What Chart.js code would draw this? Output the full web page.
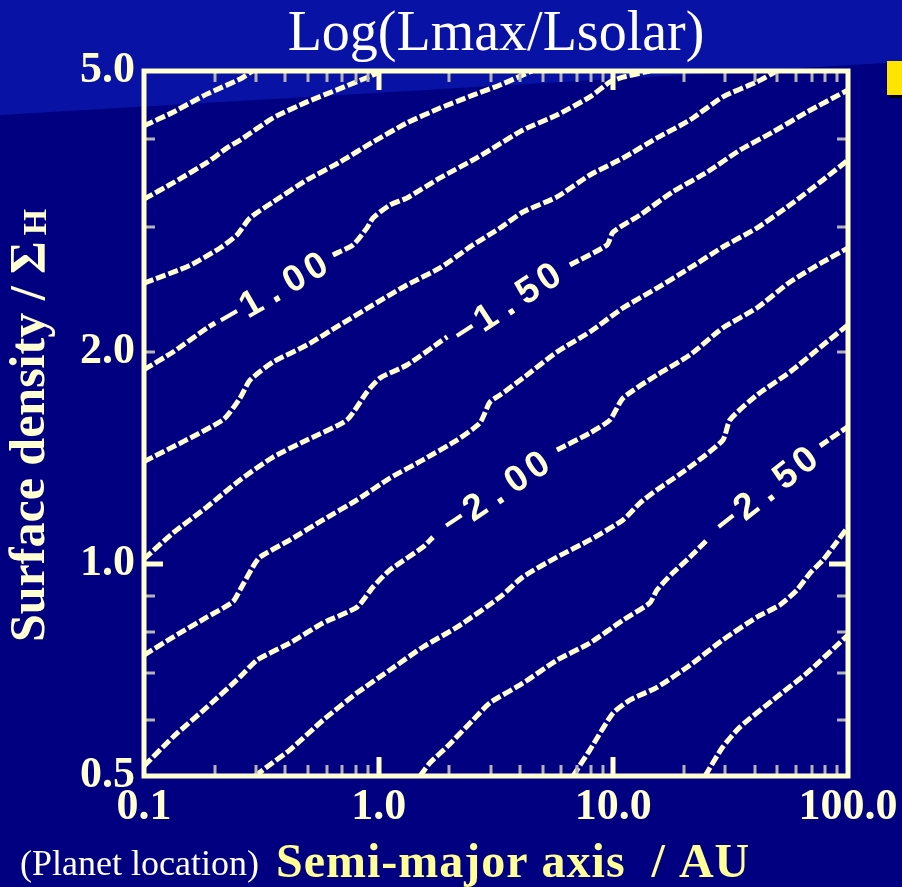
<!DOCTYPE html>
<html>
<head>
<meta charset="utf-8">
<title>Log(Lmax/Lsolar)</title>
<script src="https://cdn.jsdelivr.net/npm/chart.js@4.4.1/dist/chart.umd.min.js"></script>
<style>
  html, body { margin: 0; padding: 0; background: #000080; overflow: hidden; }
  canvas { display: block; }
</style>
</head>
<body>
<canvas id="chart" width="902" height="887"></canvas>
<script>
// Contours of Log(Lmax/Lsolar), points are [semi-major axis (AU), surface density / Sigma_H]
// null marks a gap left open for a contour label
const c025 = [[0.1, 4.18], [0.133, 4.37], [0.186, 4.64], [0.257, 4.87], [0.29, 5.0]];
const c050 = [[0.1, 3.29], [0.133, 3.47], [0.186, 3.71], [0.226, 3.89], [0.257, 3.99], [0.355, 4.29],
    [0.495, 4.52], [0.684, 4.72], [0.946, 4.935], [1.013, 5.0]];
const c075 = [[0.1, 2.50], [0.157, 2.65], [0.211, 2.805], [0.249, 2.927], [0.283, 3.094], [0.355, 3.26],
    [0.495, 3.503], [0.684, 3.714], [0.946, 3.966], [1.32, 4.22], [1.825, 4.43], [2.52, 4.62],
    [3.29, 4.776], [4.5, 5.0]];
const c100 = [[0.1, 1.885], [0.133, 1.997], [0.186, 2.161], [0.201, 2.196], null,
    [0.638, 2.742], [0.777, 2.833], [0.891, 2.994], [0.946, 3.094], [1.117, 3.228], [1.32, 3.303],
    [1.825, 3.526], [2.52, 3.738], [2.98, 3.863], [4.12, 4.124], [5.75, 4.33], [7.95, 4.595],
    [9.68, 4.825], [11.0, 4.90], [14.3, 5.0]];
const c125 = [[0.1, 1.396], [0.217, 1.60], [0.2565, 1.718], [0.283, 1.822], [0.355, 1.933], [0.495, 2.043],
    [0.684, 2.182], [0.946, 2.329], [1.32, 2.486], [1.825, 2.628], [2.52, 2.833], [3.29, 2.994],
    [4.12, 3.155], [5.75, 3.314], [7.95, 3.56], [11.0, 3.763], [15.35, 4.018], [21.2, 4.26],
    [29.3, 4.595], [40.9, 4.825], [49.8, 5.0]];
const c150 = [[0.1, 1.016], [0.133, 1.106], [0.1855, 1.204], [0.2565, 1.315], [0.355, 1.417], [0.495, 1.498],
    [0.733, 1.60], [0.891, 1.752], [1.013, 1.834], [1.32, 1.914], [1.825, 2.064], [1.96, 2.098], null,
    [6.53, 2.653], [9.4, 2.833], [9.97, 2.955], [13.0, 3.124], [17.9, 3.369], [25.1, 3.594],
    [34.7, 3.863], [47.9, 4.097], [66.9, 4.373], [100, 4.70]];
const c175 = [[0.1, 0.742], [0.133, 0.787], [0.1855, 0.840], [0.239, 0.883], [0.2565, 0.918], [0.291, 0.990],
    [0.312, 1.022], [0.419, 1.081], [0.579, 1.154], [0.809, 1.232], [1.117, 1.323], [1.545, 1.404],
    [2.157, 1.498], [2.70, 1.584], [2.98, 1.696], [3.29, 1.735], [4.12, 1.834], [5.75, 1.997],
    [7.95, 2.133], [11.0, 2.306], [15.35, 2.461], [21.2, 2.628], [29.3, 2.814], [40.9, 2.994],
    [56.6, 3.228], [78.2, 3.503], [100, 3.738]];
const c200 = [[0.1, 0.5166], [0.133, 0.568], [0.1855, 0.626], [0.2565, 0.691], [0.303, 0.730], [0.419, 0.772],
    [0.579, 0.824], [0.809, 0.868], [0.946, 0.927], [1.117, 0.980], [1.545, 1.056], [1.704, 1.091], null,
    [5.75, 1.45], [7.95, 1.533], [9.68, 1.60], [11.0, 1.718], [15.35, 1.853], [21.2, 1.978],
    [29.3, 2.161], [40.9, 2.306], [56.6, 2.51], [78.2, 2.68], [100, 2.805]];
const c225 = [[0.297, 0.5], [0.334, 0.515], [0.419, 0.5446], [0.579, 0.600], [0.809, 0.656], [1.117, 0.707],
    [1.545, 0.762], [2.157, 0.813], [3.29, 0.897], [4.12, 0.958], [5.75, 1.022], [7.95, 1.081],
    [11.0, 1.154], [13.0, 1.22], [15.35, 1.273], [21.2, 1.372], [29.3, 1.498], [31.4, 1.60],
    [40.9, 1.735], [56.6, 1.871], [78.2, 2.043], [100, 2.182]];
const c250 = [[1.50, 0.5], [1.655, 0.522], [1.955, 0.550], [2.52, 0.600], [2.98, 0.635], [4.12, 0.677],
    [5.75, 0.730], [7.95, 0.772], [11.0, 0.832], [14.3, 0.880], [15.35, 0.918], [17.9, 0.970],
    [21.2, 1.022], [25.1, 1.081], null, [76.0, 1.47], [100, 1.565]];
const c275 = [[6.73, 0.5], [7.95, 0.5446], [9.97, 0.614], [11.8, 0.641], [15.35, 0.668], [21.2, 0.718],
    [29.3, 0.780], [40.9, 0.840], [51.3, 0.874], [60.6, 0.918], [68.9, 0.970], [78.2, 1.012],
    [86.3, 1.056], [100, 1.128]];
const c300 = [[24.6, 0.5], [29.3, 0.550], [34.7, 0.587], [47.9, 0.641], [66.9, 0.700], [100, 0.7925]];

const contours = [c025, c050, c075, c100, c125, c150, c175, c200, c225, c250, c275, c300];

// contour labels, anchored in data space
const labelTexts = ['\u22121.00', '\u22121.50', '\u22122.00', '\u22122.50'];
const labelAU = [0.351, 3.49, 3.13, 44.3];
const labelSigma = [2.445, 2.344, 1.264, 1.273];

// axes
const xTicks = [0.1, 1, 10, 100];
const xTickLabels = ['0.1', '1.0', '10.0', '100.0'];
const xMinorTicks = [0.2, 0.3, 0.4, 0.5, 0.6, 0.7, 0.8, 0.9, 2, 3, 4, 5, 6, 7, 8, 9, 20, 30, 40, 50, 60, 70, 80, 90];
const xMajorTicks = [1, 10];
const yTicks = [0.5, 1, 2, 5];
const yTickLabels = ['0.5', '1.0', '2.0', '5.0'];
const yMinorTicks = [0.6, 0.7, 0.8, 0.9, 2, 3, 4];
const yMajorTicks = [1];

// ------------------------------------------------------------
// styles
// ------------------------------------------------------------
const CREAM = '#FFFFD2';
const X_TITLE_COLOR = '#FFFF96';
const LABEL_ANGLES = [-30, -33, -34, -38];

// split a contour at its gaps so each piece is its own dataset
function splitAtGaps(points) {
    const pieces = [[]];
    points.forEach(p => {
        if (p === null) pieces.push([]);
        else pieces[pieces.length - 1].push({ x: p[0], y: p[1] });
    });
    return pieces.filter(p => p.length > 1);
}

const datasets = [];
contours.forEach(c => {
    splitAtGaps(c).forEach(piece => {
        datasets.push({
            data: piece,
            borderColor: CREAM,
            borderWidth: 5,
            borderDash: [10, 3],
            pointRadius: 0,
            tension: 0.2,
            fill: false,
        });
    });
});

const decorPlugin = {
    id: 'decor',
    beforeDraw(chart) {
        const c = chart.ctx;
        c.save();
        c.fillStyle = '#000080';
        c.fillRect(0, 0, chart.width, chart.height);
        // lighter slide band at the top
        c.fillStyle = '#0812a4';
        c.beginPath();
        c.moveTo(0, 0);
        c.lineTo(chart.width, 0);
        c.lineTo(chart.width, 62);
        c.lineTo(0, 115);
        c.closePath();
        c.fill();
        // bullet square at the right edge
        c.fillStyle = '#000000';
        c.fillRect(890, 64, 15, 34);
        c.fillStyle = '#FFE400';
        c.fillRect(887, 61, 15, 34);
        c.restore();
    },
    afterDatasetsDraw(chart) {
        const c = chart.ctx;
        const xs = chart.scales.x;
        const ys = chart.scales.y;
        const { left, right, top, bottom } = chart.chartArea;

        c.save();
        c.lineCap = 'butt';

        // minor ticks, pointing inward
        c.strokeStyle = '#B4B4B8';
        c.lineWidth = 3;
        c.beginPath();
        xMinorTicks.forEach(v => {
            const px = Math.round(xs.getPixelForValue(v));
            c.moveTo(px, bottom); c.lineTo(px, bottom - 11);
            c.moveTo(px, top); c.lineTo(px, top + 11);
        });
        yMinorTicks.forEach(v => {
            const py = Math.round(ys.getPixelForValue(v));
            c.moveTo(left, py); c.lineTo(left + 11, py);
            c.moveTo(right, py); c.lineTo(right - 11, py);
        });
        c.stroke();

        // major ticks
        c.strokeStyle = CREAM;
        c.lineWidth = 5;
        c.beginPath();
        xMajorTicks.forEach(v => {
            const px = Math.round(xs.getPixelForValue(v));
            c.moveTo(px, bottom); c.lineTo(px, bottom - 19);
            c.moveTo(px, top); c.lineTo(px, top + 19);
        });
        yMajorTicks.forEach(v => {
            const py = Math.round(ys.getPixelForValue(v));
            c.moveTo(left, py); c.lineTo(left + 19, py);
            c.moveTo(right, py); c.lineTo(right - 19, py);
        });
        c.stroke();

        // frame
        c.lineWidth = 5;
        c.strokeRect(left, top, right - left, bottom - top);

        // contour labels, one character at a time along the contour
        c.fillStyle = CREAM;
        c.font = 'bold 37px "Liberation Sans", Arial, sans-serif';
        c.textAlign = 'center';
        c.textBaseline = 'alphabetic';
        labelTexts.forEach((txt, i) => {
            const px = xs.getPixelForValue(labelAU[i]);
            const py = ys.getPixelForValue(labelSigma[i]);
            c.save();
            c.translate(px, py);
            c.rotate(LABEL_ANGLES[i] * Math.PI / 180);
            const chars = Array.from(txt);
            chars.forEach((ch, k) => {
                c.fillText(ch, (k - (chars.length - 1) / 2) * 25, 13);
            });
            c.restore();
        });

        // title
        c.fillStyle = '#FFFFFF';
        c.font = '56px "Liberation Serif", "Times New Roman", serif';
        c.textAlign = 'center';
        c.fillText('Log(Lmax/Lsolar)', 496, 50);

        // x axis title
        c.textAlign = 'left';
        c.font = '36px "Liberation Serif", "Times New Roman", serif';
        c.fillText('(Planet location)', 20, 875);
        c.fillStyle = X_TITLE_COLOR;
        c.font = 'bold 48px "Liberation Serif", "Times New Roman", serif';
        c.letterSpacing = '1px';
        c.fillText('Semi-major axis  / AU', 276, 877);
        c.letterSpacing = '0px';

        // y axis title, rotated
        c.save();
        c.translate(44, 642);
        c.rotate(-Math.PI / 2);
        c.fillStyle = CREAM;
        c.font = 'bold 50px "Liberation Serif", "Times New Roman", serif';
        const main = 'Surface density / \u03A3';
        c.fillText(main, 0, 0);
        const w = c.measureText(main).width;
        c.font = 'bold 34px "Liberation Serif", "Times New Roman", serif';
        c.fillText('H', w + 6, 2);
        c.restore();

        c.restore();
    },
};

const tickFont = { family: '"Liberation Serif", "Times New Roman", serif', size: 44, weight: 'bold' };

new Chart(document.getElementById('chart'), {
    type: 'line',
    data: { datasets },
    options: {
        responsive: false,
        animation: false,
        devicePixelRatio: 1,
        layout: { padding: { top: 71, right: 54, left: 0, bottom: 0 } },
        plugins: {
            legend: { display: false },
            tooltip: { enabled: false },
            title: { display: false },
        },
        scales: {
            x: {
                type: 'logarithmic',
                min: 0.1,
                max: 100,
                afterBuildTicks: s => { s.ticks = xTicks.map(v => ({ value: v })); },
                afterFit: s => {
                    s.height = 111;
                    s.paddingLeft = 0;
                    s.paddingRight = 0;
                },
                grid: { display: false, drawTicks: false },
                border: { display: false },
                ticks: {
                    autoSkip: false,
                    maxRotation: 0,
                    color: CREAM,
                    font: tickFont,
                    padding: 5,
                    callback: (v, i) => xTickLabels[i],
                },
            },
            y: {
                type: 'logarithmic',
                min: 0.5,
                max: 5,
                afterBuildTicks: s => { s.ticks = yTicks.map(v => ({ value: v })); },
                afterFit: s => {
                    s.width = 144;
                    s.paddingTop = 0;
                    s.paddingBottom = 0;
                },
                grid: { display: false, drawTicks: false },
                border: { display: false },
                ticks: {
                    autoSkip: false,
                    color: CREAM,
                    font: tickFont,
                    padding: 9,
                    callback: (v, i) => yTickLabels[i],
                },
            },
        },
    },
    plugins: [decorPlugin],
});
</script>
</body>
</html>
